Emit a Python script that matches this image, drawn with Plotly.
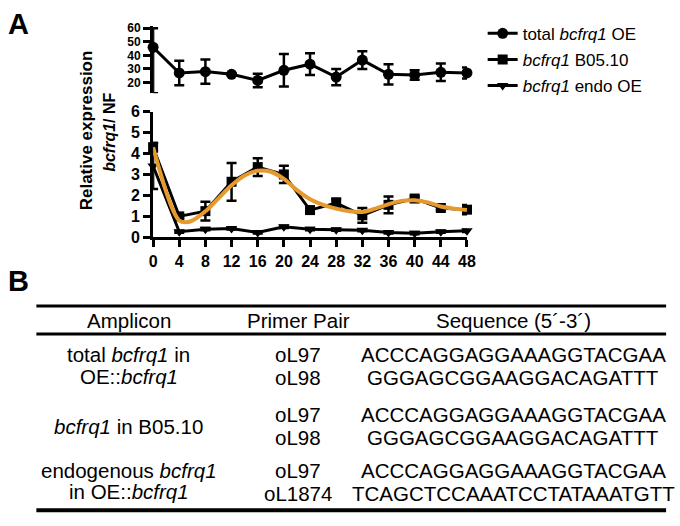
import plotly.graph_objects as go

# sampling times (h)
hours = [0, 4, 8, 12, 16, 20, 24, 28, 32, 36, 40, 44, 48]
hour_ticks = [0, 4, 8, 12, 16, 20, 24, 28, 32, 36, 40, 44, 48]

# total bcfrq1 OE (upper, broken axis segment)
total_oe = [46, 27, 28, 26, 21.5, 29, 33.5, 24, 36.5, 26, 25.5, 27.5, 27]
total_oe_err_up = [14, 9, 9, 0.8, 5, 12, 8, 6, 6.5, 7.5, 3.5, 6.5, 4]
total_oe_err_down = [34, 9, 9, 0.8, 5, 12, 8, 6, 6.5, 7.5, 3.5, 6.5, 4]

# bcfrq1 B05.10
b0510 = [4.3, 1.0, 1.25, 2.65, 3.35, 3.0, 1.3, 1.63, 1.05, 1.55, 1.85, 1.4, 1.32]
b0510_err = [0.2, 0.1, 0.45, 0.9, 0.42, 0.41, 0.1, 0.22, 0.35, 0.4, 0.1, 0.1, 0.22]

# bcfrq1 endo OE
endo_oe = [3.4, 0.27, 0.39, 0.42, 0.23, 0.5, 0.39, 0.36, 0.34, 0.23, 0.2, 0.27, 0.31]
endo_oe_err = [1.1, 0.05, 0.05, 0.05, 0.05, 0.05, 0.05, 0.05, 0.05, 0.05, 0.05, 0.05, 0.05]

# fitted rhythm curve for B05.10
fit_hours = [0, 1, 2, 3, 4, 5, 6, 8, 10, 12, 14, 16, 18, 20, 22, 24, 26, 28, 30, 32,
             34, 36, 38, 40, 42, 44, 46, 48]
fit_vals = [4.3, 3.2, 2.17, 1.33, 0.8, 0.72, 0.8, 1.24, 1.86, 2.48, 2.95, 3.18, 3.13,
            2.79, 2.25, 1.82, 1.55, 1.37, 1.24, 1.21, 1.37, 1.58, 1.74, 1.77, 1.67,
            1.47, 1.37, 1.30]

# table (panel B)
table_header = ["Amplicon", "Primer Pair", "Sequence (5´-3´)"]
amplicons = [["total <i>bcfrq1</i> in", "OE::<i>bcfrq1</i>"],
             ["<i>bcfrq1</i> in B05.10"],
             ["endogenous <i>bcfrq1</i>", "in OE::<i>bcfrq1</i>"]]
primers = [["oL97", "oL98"], ["oL97", "oL98"], ["oL97", "oL1874"]]
sequences = [["ACCCAGGAGGAAAGGTACGAA", "GGGAGCGGAAGGACAGATTT"],
             ["ACCCAGGAGGAAAGGTACGAA", "GGGAGCGGAAGGACAGATTT"],
             ["ACCCAGGAGGAAAGGTACGAA", "TCAGCTCCAAATCCTATAAATGTT"]]

W, H = 680, 526
FONT = "Liberation Sans, Arial, Helvetica, sans-serif"
ORANGE = "#E69A2E"


def px_x(x):
    return x / W


def px_y(y):
    return 1 - y / H


def label(fig, x, y, text, font, angle=0):
    fig.add_annotation(x=px_x(x), y=px_y(y), xref="paper", yref="paper",
                       xanchor="center", yanchor="middle", text=text,
                       textangle=angle, showarrow=False, font=font)


err_style = dict(color="black", thickness=2.5, width=5)

fig = go.Figure()

fig.add_trace(go.Scatter(
    x=hours, y=total_oe, xaxis="x2", yaxis="y2", mode="lines+markers",
    name="total <i>bcfrq1</i> OE", legendgroup="a",
    line=dict(color="black", width=3),
    marker=dict(symbol="circle", size=11, color="black"),
    error_y=dict(type="data", symmetric=False, array=total_oe_err_up,
                 arrayminus=total_oe_err_down, **err_style),
    cliponaxis=False,
))

fig.add_trace(go.Scatter(
    x=hours, y=b0510, mode="lines+markers",
    name="<i>bcfrq1</i> B05.10", legendgroup="b",
    line=dict(color="black", width=3),
    marker=dict(symbol="square", size=10, color="black"),
    error_y=dict(type="data", array=b0510_err, **err_style),
    cliponaxis=False,
))

fig.add_trace(go.Scatter(
    x=hours, y=endo_oe, mode="lines+markers",
    name="<i>bcfrq1</i> endo OE", legendgroup="c",
    line=dict(color="black", width=3),
    marker=dict(symbol="triangle-down", size=10, color="black"),
    error_y=dict(type="data", array=endo_oe_err, **err_style),
    cliponaxis=False,
))

fig.add_trace(go.Scatter(
    x=fit_hours, y=fit_vals, mode="lines", showlegend=False,
    line=dict(color=ORANGE, width=4, shape="spline"),
    cliponaxis=False,
))

x_dom = [px_x(152), px_x(472)]
axis_font = dict(family=FONT, size=16, color="black", weight="bold")
top_font = dict(family=FONT, size=12, color="black", weight="bold")

fig.update_layout(
    width=W, height=H,
    margin=dict(l=0, r=0, t=0, b=0),
    paper_bgcolor="white", plot_bgcolor="white",
    font=dict(family=FONT, color="black"),
    xaxis=dict(domain=x_dom, range=[0, 48], tickvals=hour_ticks,
               showline=True, linewidth=3, linecolor="black",
               ticks="outside", ticklen=7, tickwidth=3, tickcolor="black",
               tickfont=axis_font, showgrid=False, zeroline=False,
               anchor="y"),
    yaxis=dict(domain=[px_y(237), px_y(107)], range=[0, 6],
               tickvals=[0, 1, 2, 3, 4, 5, 6],
               showline=True, linewidth=3, linecolor="black",
               ticks="outside", ticklen=7, tickwidth=3, tickcolor="black",
               tickfont=axis_font, showgrid=False, zeroline=False,
               anchor="x"),
    xaxis2=dict(domain=x_dom, range=[0, 48], visible=False, anchor="y2"),
    yaxis2=dict(domain=[px_y(88), px_y(19)], range=[12.1, 61.4],
                tickvals=[20, 30, 40, 50, 60],
                showline=True, linewidth=3, linecolor="black",
                ticks="outside", ticklen=7, tickwidth=3, tickcolor="black",
                tickfont=top_font, showgrid=False, zeroline=False,
                anchor="x2"),
    legend=dict(x=px_x(488), y=px_y(8), xanchor="left", yanchor="top",
                font=dict(family=FONT, size=17, color="black"),
                bgcolor="rgba(0,0,0,0)", borderwidth=0,
                tracegroupgap=1, itemwidth=30),
    showlegend=True,
)

# axis title (two lines, rotated)
label(fig, 85, 126, "<b>Relative expression</b>",
      dict(family=FONT, size=17, color="black"), angle=-90)
label(fig, 108, 128, "<b><i>bcfrq1</i>/ NF</b>",
      dict(family=FONT, size=16, color="black"), angle=-90)

# panel letters
for letter, lx, ly in [("A", 15, 17), ("B", 15, 282)]:
    label(fig, lx, ly, "<b>" + letter + "</b>",
          dict(family=FONT, size=29, color="black"))

# table rules
for ry, rw in [(308, 3), (337, 3), (519, 4)]:
    fig.add_shape(type="line", xref="paper", yref="paper",
                  x0=px_x(33), x1=px_x(675), y0=px_y(ry), y1=px_y(ry),
                  line=dict(color="black", width=rw))

tfont = dict(family=FONT, size=20.5, color="black")
col_x = [127, 300, 519]
for cx, txt in zip(col_x, table_header):
    label(fig, cx, 323, txt, tfont)

row_y = [[358, 382], [420, 444], [478, 502]]
amp_y = [[358, 381], [432], [478, 500]]
for i in range(3):
    for txt, ty in zip(amplicons[i], amp_y[i]):
        label(fig, col_x[0], ty, txt, tfont)
    for txt, ty in zip(primers[i], row_y[i]):
        label(fig, col_x[1], ty, txt, tfont)
    for txt, ty in zip(sequences[i], row_y[i]):
        label(fig, col_x[2], ty, txt, tfont)

fig.write_html("out.html", config={"displayModeBar": False},
               post_script="document.body.style.margin = '0';")
